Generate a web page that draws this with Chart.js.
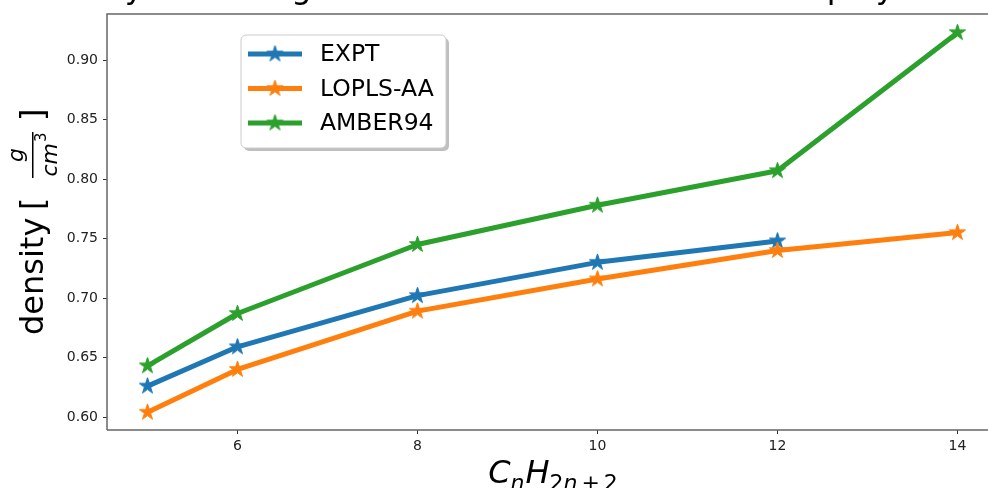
<!DOCTYPE html>
<html>
<head>
<meta charset="utf-8">
<script src="https://cdn.jsdelivr.net/npm/chart.js@4/dist/chart.umd.min.js"></script>
<style>
  html, body { margin: 0; padding: 0; background: #ffffff; }
  #wrap { width: 988px; height: 488px; }
</style>
</head>
<body>
<div id="wrap"><canvas id="c" width="988" height="488"></canvas></div>
<script>
// ---- data ----
const categories = [5, 6, 8, 10, 12, 14];
const exptValues = [0.626, 0.659, 0.702, 0.730, 0.748, null];
const loplsValues = [0.604, 0.640, 0.689, 0.716, 0.740, 0.755];
const amberValues = [0.643, 0.687, 0.745, 0.778, 0.807, 0.923];
const seriesNames = ['EXPT', 'LOPLS-AA', 'AMBER94'];
const xTicks = [6, 8, 10, 12, 14];
const yTicks = [0.60, 0.65, 0.70, 0.75, 0.80, 0.85, 0.90];
const titleText = 'Density of all long alkanes EXPT vs LOPLS-AA and polymer models';

const colors = ['#1f77b4', '#ff7f0e', '#2ca02c'];
const FONT = "'DejaVu Sans', 'Liberation Sans', sans-serif";

function starImage(color, r) {
  const s = Math.ceil(r * 2 + 4);
  const c = document.createElement('canvas');
  c.width = s; c.height = s;
  const g = c.getContext('2d');
  g.translate(s / 2, s / 2);
  g.beginPath();
  for (let i = 0; i < 10; i++) {
    const rad = (i % 2 === 0) ? r : r * 0.381966;
    const a = -Math.PI / 2 + i * Math.PI / 5;
    const x = rad * Math.cos(a), y = rad * Math.sin(a);
    if (i === 0) g.moveTo(x, y); else g.lineTo(x, y);
  }
  g.closePath();
  g.fillStyle = color;
  g.fill();
  g.lineWidth = 1;
  g.strokeStyle = color;
  g.lineJoin = 'miter';
  g.stroke();
  return c;
}

function toPoints(vals) {
  const out = [];
  categories.forEach((x, i) => { if (vals[i] !== null && vals[i] !== undefined) out.push({ x: x, y: vals[i] }); });
  return out;
}

const allValues = [exptValues, loplsValues, amberValues];
const stars = colors.map(c => starImage(c, 8.5));

const datasets = allValues.map((vals, i) => ({
  label: seriesNames[i],
  data: toPoints(vals),
  borderColor: colors[i],
  backgroundColor: colors[i],
  borderWidth: 5,
  borderJoinStyle: 'round',
  borderCapStyle: 'round',
  pointStyle: stars[i],
  pointRadius: 9,
  pointHoverRadius: 9,
  tension: 0,
  order: 3 - i,
  clip: false
}));

const decorPlugin = {
  id: 'decor',
  beforeDraw(chart) {
    const ctx = chart.ctx;
    ctx.save();
    ctx.fillStyle = '#ffffff';
    ctx.fillRect(0, 0, chart.width, chart.height);
    ctx.restore();
  },
  afterDraw(chart) {
    const ctx = chart.ctx;
    const a = chart.chartArea;
    ctx.save();
    // spines (right one lies outside the picture)
    ctx.strokeStyle = '#666666';
    ctx.lineWidth = 1.5;
    ctx.beginPath();
    ctx.moveTo(a.left, a.bottom);
    ctx.lineTo(a.left, a.top);
    ctx.lineTo(chart.width, a.top);
    ctx.moveTo(a.left, a.bottom);
    ctx.lineTo(chart.width, a.bottom);
    ctx.stroke();

    // title (cut off at the top edge)
    ctx.fillStyle = '#000';
    ctx.font = '32px ' + FONT;
    ctx.textAlign = 'left';
    ctx.textBaseline = 'alphabetic';
    ctx.fillText(titleText, 22, -2);

    // legend
    const lx = 241, ly = 35, lw = 205, lh = 113, rr = 5;
    function rbox(x, y, w, h) {
      ctx.beginPath();
      ctx.moveTo(x + rr, y);
      ctx.lineTo(x + w - rr, y); ctx.arcTo(x + w, y, x + w, y + rr, rr);
      ctx.lineTo(x + w, y + h - rr); ctx.arcTo(x + w, y + h, x + w - rr, y + h, rr);
      ctx.lineTo(x + rr, y + h); ctx.arcTo(x, y + h, x, y + h - rr, rr);
      ctx.lineTo(x, y + rr); ctx.arcTo(x, y, x + rr, y, rr);
      ctx.closePath();
    }
    rbox(lx + 3, ly + 3, lw, lh);
    ctx.fillStyle = 'rgba(128,128,128,0.5)';
    ctx.fill();
    rbox(lx, ly, lw, lh);
    ctx.fillStyle = '#ffffff';
    ctx.fill();
    ctx.strokeStyle = '#cccccc';
    ctx.lineWidth = 1;
    ctx.stroke();
    const rowY = [54, 88.5, 123];
    ctx.font = '23.5px ' + FONT;
    ctx.textBaseline = 'middle';
    seriesNames.forEach((name, i) => {
      ctx.strokeStyle = colors[i];
      ctx.lineWidth = 5;
      ctx.lineCap = 'butt';
      ctx.beginPath();
      ctx.moveTo(248, rowY[i]);
      ctx.lineTo(302, rowY[i]);
      ctx.stroke();
      const im = stars[i];
      ctx.drawImage(im, 275 - im.width / 2, rowY[i] - im.height / 2);
      ctx.fillStyle = '#000';
      ctx.fillText(name, 320, rowY[i] + 1);
    });

    // y axis label: density [ g / cm^3 ]
    ctx.save();
    ctx.translate(43, 335);
    ctx.rotate(-Math.PI / 2);
    ctx.fillStyle = '#000';
    ctx.textBaseline = 'alphabetic';
    ctx.textAlign = 'left';
    ctx.font = '32px ' + FONT;
    ctx.fillText('density', 0, 0);
    ctx.fillText('[', 125, 0);
    ctx.fillText(']', 214, 0);
    // fraction
    const fx0 = 157, fx1 = 203;
    ctx.fillRect(fx0, -11, fx1 - fx0, 1.5);
    ctx.font = 'italic 22px ' + FONT;
    const gw = ctx.measureText('g').width;
    ctx.fillText('g', (fx0 + fx1) / 2 - gw / 2, -20);
    const cmw = ctx.measureText('cm').width;
    ctx.font = '15px ' + FONT;
    const tw = ctx.measureText('3').width;
    const dstart = (fx0 + fx1) / 2 - (cmw + tw) / 2;
    ctx.font = 'italic 22px ' + FONT;
    ctx.fillText('cm', dstart, 14);
    ctx.font = '15px ' + FONT;
    ctx.fillText('3', dstart + cmw + 1, 3);
    ctx.restore();

    // x axis label: C_n H_{2n+2}
    ctx.save();
    ctx.fillStyle = '#000';
    ctx.textBaseline = 'alphabetic';
    ctx.textAlign = 'left';
    const big = 'italic 32px ' + FONT, small = 'italic 22px ' + FONT, smallUp = '22px ' + FONT;
    const parts = [
      { t: 'C', f: big, dy: 0 },
      { t: 'n', f: small, dy: 7 },
      { t: 'H', f: big, dy: 0, pre: 1 },
      { t: '2', f: smallUp, dy: 7 },
      { t: 'n', f: small, dy: 7 },
      { t: '+', f: smallUp, dy: 7, pre: 4, post: 4 },
      { t: '2', f: smallUp, dy: 7 }
    ];
    let total = 0;
    parts.forEach(p => { ctx.font = p.f; p.w = ctx.measureText(p.t).width; total += (p.pre || 0) + p.w + (p.post || 0); });
    let x = 553 - total / 2;
    parts.forEach(p => {
      x += (p.pre || 0);
      ctx.font = p.f;
      ctx.fillText(p.t, x, 483 + p.dy);
      x += p.w + (p.post || 0);
    });
    ctx.restore();
    ctx.restore();
  }
};

new Chart(document.getElementById('c'), {
  type: 'line',
  data: { datasets: datasets },
  options: {
    responsive: false,
    devicePixelRatio: 1,
    animation: false,
    events: [],
    layout: { autoPadding: false, padding: { top: 14, right: 0, left: 0, bottom: 0 } },
    plugins: {
      legend: { display: false },
      tooltip: { enabled: false },
      title: { display: false }
    },
    scales: {
      x: {
        type: 'linear',
        bounds: 'data',
        min: 4.55,
        max: 14.339,
        afterFit(s) { s.height = 58; s.paddingLeft = 0; s.paddingRight = 0; },
        afterBuildTicks(s) { s.ticks = xTicks.map(v => ({ value: v })); },
        grid: { display: true, drawOnChartArea: false, drawTicks: true, tickLength: 4, tickColor: '#333', tickWidth: 1 },
        border: { display: false },
        ticks: {
          padding: 4,
          color: '#222',
          font: { family: FONT, size: 14 },
          callback: v => String(v),
          maxRotation: 0,
          autoSkip: false
        }
      },
      y: {
        type: 'linear',
        bounds: 'data',
        min: 0.5891,
        max: 0.9387,
        afterFit(s) { s.width = 107; s.paddingTop = 0; s.paddingBottom = 0; },
        afterBuildTicks(s) { s.ticks = yTicks.map(v => ({ value: v })); },
        grid: { display: true, drawOnChartArea: false, drawTicks: true, tickLength: 4, tickColor: '#333', tickWidth: 1 },
        border: { display: false },
        ticks: {
          padding: 5,
          color: '#222',
          font: { family: FONT, size: 14 },
          callback: v => Number(v).toFixed(2),
          autoSkip: false
        }
      }
    }
  },
  plugins: [decorPlugin]
});
</script>
</body>
</html>
